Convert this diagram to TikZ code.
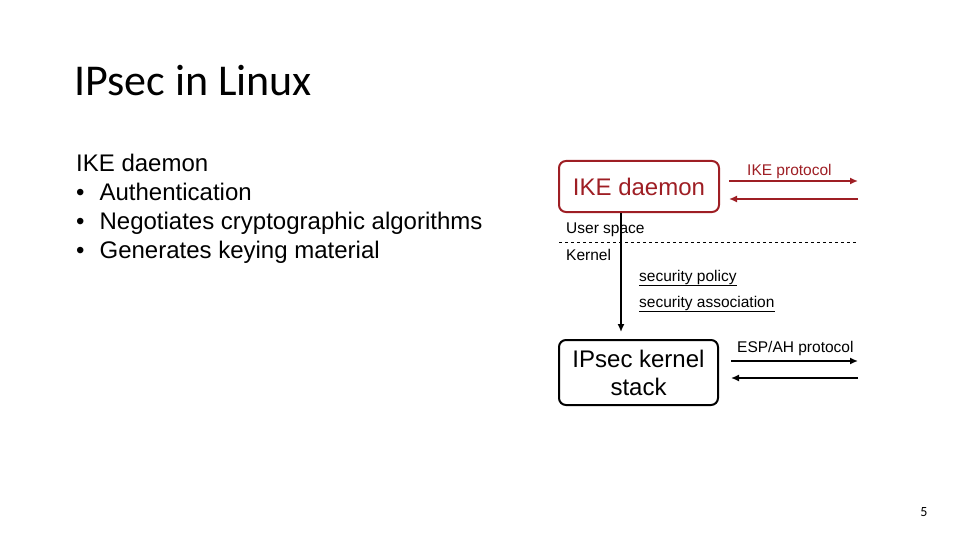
\documentclass[tikz,border=0pt]{standalone}
\usepackage{fontspec}
\setmainfont{Liberation Sans}
\newfontfamily\calfont{Carlito}
\definecolor{dred}{RGB}{158,30,36}
\usetikzlibrary{arrows.meta}
\begin{document}
\begin{tikzpicture}[x=1pt,y=-1pt,
  box/.style={draw,line width=2pt,rounded corners=7pt,inner sep=0pt,align=center},
  arr/.style={-{Latex[length=8pt,width=7pt]},line width=1.5pt},
  lbl/.style={anchor=west,inner sep=0pt,font=\fontsize{15.5}{18}\selectfont},
  ul/.style={line width=0.8pt}]
\path[use as bounding box] (0,0) rectangle (960,540);
\node[anchor=west,inner sep=0pt,font=\calfont\fontsize{44}{48}\selectfont] (title) at (74,81) {IPsec in Linux};
\node[anchor=north west,inner sep=0pt,align=left,font=\fontsize{24}{29}\selectfont] (body) at (76,154)
 {IKE daemon\\ \textbullet\hspace{15pt}Authentication\\ \textbullet\hspace{15pt}Negotiates cryptographic algorithms\\ \textbullet\hspace{15pt}Generates keying material};
\node[box,draw=dred,text=dred,minimum width=160pt,minimum height=51pt,font=\fontsize{24}{28}\selectfont] (ike) at (639,186.5) {IKE daemon};
\node[box,minimum width=159pt,minimum height=65pt,font=\fontsize{24}{28}\selectfont] (ips) at (638.5,372.5) {IPsec kernel\\stack};
\coordinate (a1) at (729,181); \coordinate (a2) at (858,181);
\coordinate (b1) at (858,199); \coordinate (b2) at (729,199);
\draw[arr,dred] (a1) -- (a2);
\draw[arr,dred] (b1) -- (b2);
\node[lbl,dred] (ikep) at (747,171) {IKE protocol};
\coordinate (c1) at (731,361); \coordinate (c2) at (858,361);
\coordinate (d1) at (858,378); \coordinate (d2) at (731,378);
\draw[arr] (c1) -- (c2);
\draw[arr] (d1) -- (d2);
\node[lbl] (espp) at (737,348) {ESP/AH protocol};
\coordinate (l1) at (559,242); \coordinate (l2) at (858,242);
\draw[dashed,line width=0.6pt] (l1) -- (l2);
\node[lbl] (us) at (566,230) {User space};
\node[lbl] (kn) at (566,255) {Kernel};
\node[lbl] (sp) at (639,277) {security policy};
\node[lbl] (sa) at (639,303) {security association};
\draw[ul] ([yshift=-1pt]sp.south west) -- ([yshift=-1pt]sp.south east);
\draw[ul] ([yshift=-1pt]sa.south west) -- ([yshift=-1pt]sa.south east);
\draw[arr] ([xshift=-18pt]ike.south) -- ([xshift=-17.5pt,yshift=7pt]ips.north);
\node[inner sep=0pt,font=\calfont\fontsize{14}{16}\selectfont] (pg) at (924,512) {5};
\end{tikzpicture}
\end{document}
